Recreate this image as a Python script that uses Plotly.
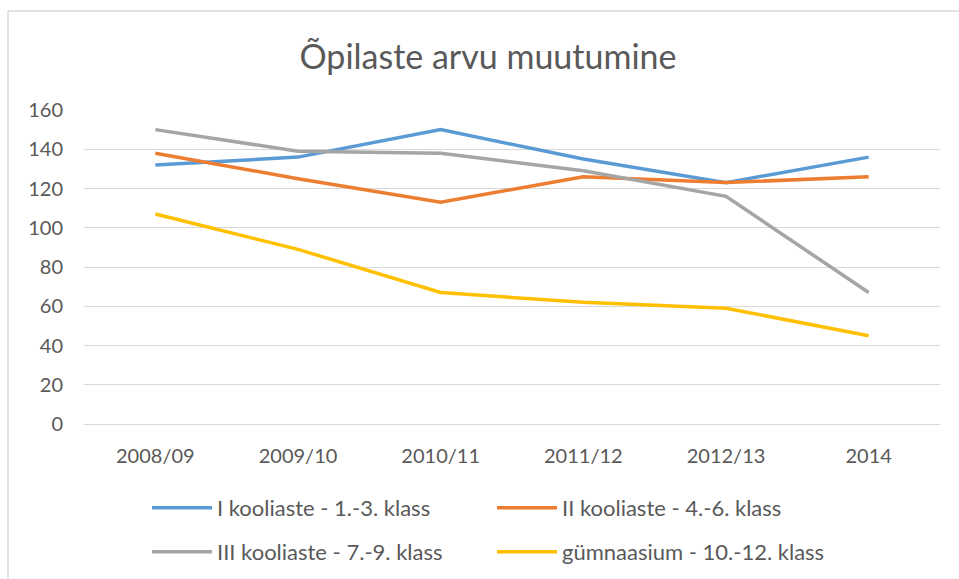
import plotly.graph_objects as go

categories = ["2008/09", "2009/10", "2010/11", "2011/12", "2012/13", "2014"]
series_names = [
    "I kooliaste - 1.-3. klass",
    "II kooliaste - 4.-6. klass",
    "III kooliaste - 7.-9. klass",
    "gümnaasium - 10.-12. klass",
]
s1 = [132, 136, 150, 135, 123, 136]
s2 = [138, 125, 113, 126, 123, 126]
s3 = [150, 139, 138, 129, 116, 67]
s4 = [107, 89, 67, 62, 59, 45]
colors = ["#5B9BD5", "#ED7D31", "#A5A5A5", "#FFC000"]
legend_ids = ["legend", "legend", "legend2", "legend2"]

W, H = 959, 579
L, R, T, B = 84, 19, 110, 155

fig = go.Figure()
for name, vals, col, lg in zip(series_names, [s1, s2, s3, s4], colors, legend_ids):
    fig.add_trace(go.Scatter(
        x=categories, y=vals, name=name, mode="lines",
        line=dict(color=col, width=3.5), legend=lg,
    ))

font_family = "Lato, 'Open Sans', sans-serif"
txt = "#595959"

# frame lines (left and top border)
pw = W - L - R
ph = H - T - B
bx = (8 - L) / pw
by = 1 + (T - 11) / ph
fig.add_shape(type="line", xref="paper", yref="paper", x0=bx, x1=bx, y0=by, y1=-(B + 5) / ph,
              line=dict(color="#D9D9D9", width=1.5))
fig.add_shape(type="line", xref="paper", yref="paper", x0=bx, x1=(W - L + 5) / pw, y0=by, y1=by,
              line=dict(color="#D9D9D9", width=1.5))

legend_common = dict(
    orientation="h", xref="container", yref="container",
    xanchor="left", yanchor="middle",
    font=dict(family=font_family, size=22, color=txt),
    entrywidth=270, entrywidthmode="pixels",
    itemwidth=60, bgcolor="rgba(0,0,0,0)", traceorder="normal",
)

fig.update_layout(
    width=W, height=H,
    margin=dict(l=L, r=R, t=T, b=B),
    paper_bgcolor="white", plot_bgcolor="white",
    font=dict(family=font_family, color=txt),
    title=dict(text="Õpilaste arvu muutumine", x=488 / W, xanchor="center",
               xref="container", y=1 - 57 / H, yref="container", yanchor="middle",
               font=dict(family=font_family, size=34, color=txt)),
    xaxis=dict(
        type="category", showgrid=False, showline=False, zeroline=False,
        ticks="outside", ticklen=14, tickcolor="rgba(0,0,0,0)",
        tickfont=dict(family=font_family, size=20, color=txt),
        range=[-0.5, 5.5],
    ),
    yaxis=dict(
        range=[0, 160], dtick=20, tick0=0,
        showgrid=True, gridcolor="#D9D9D9", gridwidth=1,
        zeroline=True, zerolinecolor="#D9D9D9", zerolinewidth=1,
        showline=False, ticks="outside", ticklen=16, tickcolor="rgba(0,0,0,0)",
        tickfont=dict(family=font_family, size=20, color=txt),
    ),
    legend=dict(x=147 / W, y=1 - 508 / H, **legend_common),
    legend2=dict(x=147 / W, y=1 - 552 / H, **legend_common),
    showlegend=True,
)

fig.write_html("out.html")
